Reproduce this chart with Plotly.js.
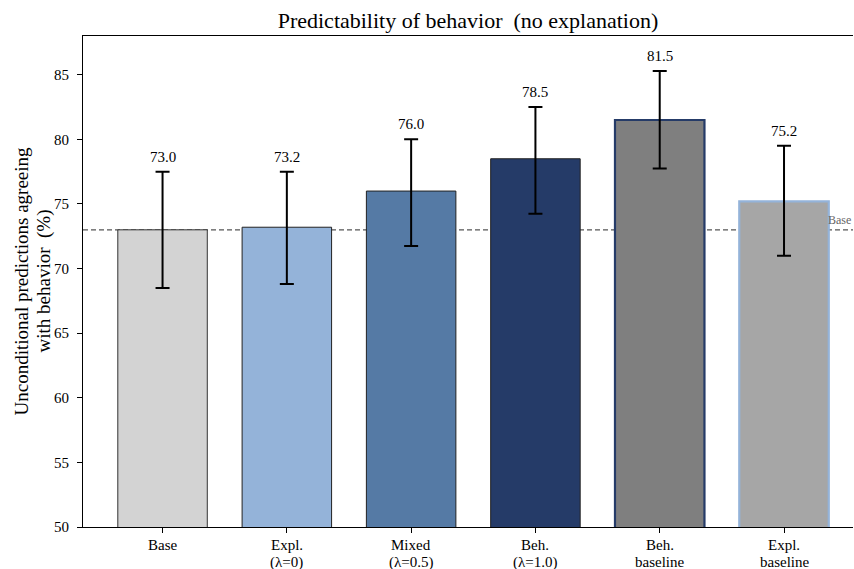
<!DOCTYPE html>
<html>
<head>
<meta charset="utf-8">
<script src="https://cdn.plot.ly/plotly-3.0.1.min.js"></script>
<style>html,body{margin:0;padding:0;background:#fff;}#chart{width:854px;height:569px;}</style>
</head>
<body>
<div id="chart"></div>
<script>
const categories = ["Base", "Expl.<br>(λ=0)", "Mixed<br>(λ=0.5)", "Beh.<br>(λ=1.0)", "Beh.<br>baseline", "Expl.<br>baseline"];
const values = [73.0, 73.2, 76.0, 78.5, 81.5, 75.2];
const labelValues = ["73.0", "73.2", "76.0", "78.5", "81.5", "75.2"];
const errPlus = [4.5, 4.3, 4.0, 4.0, 3.8, 4.3];
const errMinus = [4.5, 4.4, 4.25, 4.25, 3.75, 4.2];
const baseLine = 73.0;
const yTitleLines = ["Unconditional predictions agreeing", "with behavior  (%)"];
const yTicks = [50, 55, 60, 65, 70, 75, 80, 85];

const fillColors = ["#d3d3d3", "#94b3d9", "#557aa5", "#253b68", "#7f7f7f", "#a6a6a6"];
const edgeColors = ["#333333", "#222222", "#222222", "#222222", "#253b68", "#94b3d9"];
const edgeWidths = [1, 1, 1, 1, 2.2, 2.2];

const xs = categories.map((c, i) => i);
const serif = "Liberation Serif";

const trace = {
  type: "bar",
  x: xs,
  y: values,
  width: 0.72,
  marker: { color: fillColors, line: { color: edgeColors, width: edgeWidths } },
  error_y: { type: "data", symmetric: false, array: errPlus, arrayminus: errMinus, color: "#000", thickness: 2, width: 7 },
  hoverinfo: "none"
};

const annotations = values.map((v, i) => ({
  x: i, y: v + errPlus[i], xref: "x", yref: "y",
  text: labelValues[i], showarrow: false, yanchor: "bottom", yshift: 5,
  font: { family: serif, size: 15, color: "#000" }
}));
annotations.push({
  x: 1, xref: "paper", xanchor: "right", y: baseLine, yref: "y", yanchor: "bottom", yshift: 1,
  text: "Base", showarrow: false, font: { family: serif, size: 12, color: "#666" }
});
// category labels, one text per line for matplotlib-like line spacing
categories.forEach((c, i) => {
  c.split("<br>").forEach((line, j) => {
    annotations.push({
      x: i, xref: "x", y: 0, yref: "paper", yanchor: "middle", yshift: -18 - 17 * j,
      text: line, showarrow: false, font: { family: serif, size: 15, color: "#000" }
    });
  });
});
// y-axis title lines
yTitleLines.forEach((line, j) => {
  annotations.push({
    x: 0, xref: "paper", xanchor: "center", xshift: -62 + 22 * j, y: 0.5, yref: "paper", yanchor: "middle",
    text: line, textangle: -90, showarrow: false, font: { family: serif, size: 19, color: "#000" }
  });
});

const layout = {
  width: 854, height: 569,
  margin: { l: 83, r: 1, t: 36, b: 42 },
  paper_bgcolor: "#fff", plot_bgcolor: "#fff",
  title: { text: "Predictability of behavior  (no explanation)", x: 0.548, xanchor: "center", y: 0.965, yanchor: "middle",
           font: { family: serif, size: 22, color: "#000" } },
  xaxis: {
    range: [-0.64, 5.555], tickmode: "array", tickvals: xs, showticklabels: false,
    showgrid: false, zeroline: false, showline: true, linecolor: "#000", linewidth: 1, mirror: true,
    ticks: "outside", ticklen: 5, tickcolor: "#000"
  },
  yaxis: {
    range: [50, 88], tickvals: yTicks,
    showgrid: false, zeroline: false, showline: true, linecolor: "#000", linewidth: 1,
    ticks: "outside", ticklen: 5, tickcolor: "#000", ticklabelstandoff: 5,
    tickfont: { family: serif, size: 15, color: "#000" }
  },
  shapes: [{
    type: "line", xref: "paper", x0: 0, x1: 1, yref: "y", y0: baseLine, y1: baseLine,
    line: { color: "#555", width: 1.3, dash: "5px,3px" }, layer: "below"
  }],
  annotations: annotations,
  showlegend: false, bargap: 0.28
};

Plotly.newPlot("chart", [trace], layout, { displayModeBar: false, staticPlot: true });
</script>
</body>
</html>
